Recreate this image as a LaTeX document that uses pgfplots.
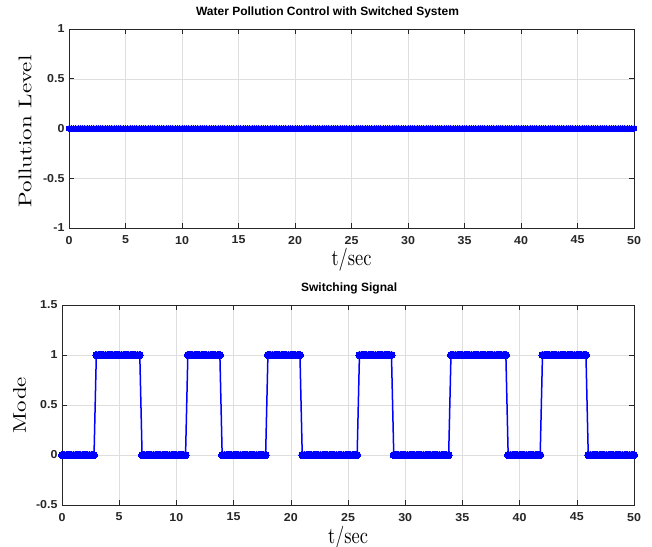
\documentclass[border=0pt]{standalone}
\usepackage{pgfplots}
\pgfplotsset{compat=1.18}
\usepackage{pgfplotstable}
\usepackage{fontspec}
\newfontfamily\hv{Liberation Sans}
\newfontfamily\hvt[FakeStretch=1.08]{Liberation Sans}
\newfontfamily\lmx[FakeStretch=0.8]{lmroman10-regular.otf}
\newfontfamily\lmy[FakeStretch=1.25]{lmroman10-regular.otf}
\definecolor{axgray}{gray}{0.15}
\pgfplotstableread[row sep=\\]{
t p m\\
0 0 0\\ 0.2 0 0\\ 0.4 0 0\\ 0.6 0 0\\ 0.8 0 0\\
1 0 0\\ 1.2 0 0\\ 1.4 0 0\\ 1.6 0 0\\ 1.8 0 0\\
2 0 0\\ 2.2 0 0\\ 2.4 0 0\\ 2.6 0 0\\ 2.8 0 0\\
3 0 1\\ 3.2 0 1\\ 3.4 0 1\\ 3.6 0 1\\ 3.8 0 1\\
4 0 1\\ 4.2 0 1\\ 4.4 0 1\\ 4.6 0 1\\ 4.8 0 1\\
5 0 1\\ 5.2 0 1\\ 5.4 0 1\\ 5.6 0 1\\ 5.8 0 1\\
6 0 1\\ 6.2 0 1\\ 6.4 0 1\\ 6.6 0 1\\ 6.8 0 1\\
7 0 0\\ 7.2 0 0\\ 7.4 0 0\\ 7.6 0 0\\ 7.8 0 0\\
8 0 0\\ 8.2 0 0\\ 8.4 0 0\\ 8.6 0 0\\ 8.8 0 0\\
9 0 0\\ 9.2 0 0\\ 9.4 0 0\\ 9.6 0 0\\ 9.8 0 0\\
10 0 0\\ 10.2 0 0\\ 10.4 0 0\\ 10.6 0 0\\ 10.8 0 0\\
11 0 1\\ 11.2 0 1\\ 11.4 0 1\\ 11.6 0 1\\ 11.8 0 1\\
12 0 1\\ 12.2 0 1\\ 12.4 0 1\\ 12.6 0 1\\ 12.8 0 1\\
13 0 1\\ 13.2 0 1\\ 13.4 0 1\\ 13.6 0 1\\ 13.8 0 1\\
14 0 0\\ 14.2 0 0\\ 14.4 0 0\\ 14.6 0 0\\ 14.8 0 0\\
15 0 0\\ 15.2 0 0\\ 15.4 0 0\\ 15.6 0 0\\ 15.8 0 0\\
16 0 0\\ 16.2 0 0\\ 16.4 0 0\\ 16.6 0 0\\ 16.8 0 0\\
17 0 0\\ 17.2 0 0\\ 17.4 0 0\\ 17.6 0 0\\ 17.8 0 0\\
18 0 1\\ 18.2 0 1\\ 18.4 0 1\\ 18.6 0 1\\ 18.8 0 1\\
19 0 1\\ 19.2 0 1\\ 19.4 0 1\\ 19.6 0 1\\ 19.8 0 1\\
20 0 1\\ 20.2 0 1\\ 20.4 0 1\\ 20.6 0 1\\ 20.8 0 1\\
21 0 0\\ 21.2 0 0\\ 21.4 0 0\\ 21.6 0 0\\ 21.8 0 0\\
22 0 0\\ 22.2 0 0\\ 22.4 0 0\\ 22.6 0 0\\ 22.8 0 0\\
23 0 0\\ 23.2 0 0\\ 23.4 0 0\\ 23.6 0 0\\ 23.8 0 0\\
24 0 0\\ 24.2 0 0\\ 24.4 0 0\\ 24.6 0 0\\ 24.8 0 0\\
25 0 0\\ 25.2 0 0\\ 25.4 0 0\\ 25.6 0 0\\ 25.8 0 0\\
26 0 1\\ 26.2 0 1\\ 26.4 0 1\\ 26.6 0 1\\ 26.8 0 1\\
27 0 1\\ 27.2 0 1\\ 27.4 0 1\\ 27.6 0 1\\ 27.8 0 1\\
28 0 1\\ 28.2 0 1\\ 28.4 0 1\\ 28.6 0 1\\ 28.8 0 1\\
29 0 0\\ 29.2 0 0\\ 29.4 0 0\\ 29.6 0 0\\ 29.8 0 0\\
30 0 0\\ 30.2 0 0\\ 30.4 0 0\\ 30.6 0 0\\ 30.8 0 0\\
31 0 0\\ 31.2 0 0\\ 31.4 0 0\\ 31.6 0 0\\ 31.8 0 0\\
32 0 0\\ 32.2 0 0\\ 32.4 0 0\\ 32.6 0 0\\ 32.8 0 0\\
33 0 0\\ 33.2 0 0\\ 33.4 0 0\\ 33.6 0 0\\ 33.8 0 0\\
34 0 1\\ 34.2 0 1\\ 34.4 0 1\\ 34.6 0 1\\ 34.8 0 1\\
35 0 1\\ 35.2 0 1\\ 35.4 0 1\\ 35.6 0 1\\ 35.8 0 1\\
36 0 1\\ 36.2 0 1\\ 36.4 0 1\\ 36.6 0 1\\ 36.8 0 1\\
37 0 1\\ 37.2 0 1\\ 37.4 0 1\\ 37.6 0 1\\ 37.8 0 1\\
38 0 1\\ 38.2 0 1\\ 38.4 0 1\\ 38.6 0 1\\ 38.8 0 1\\
39 0 0\\ 39.2 0 0\\ 39.4 0 0\\ 39.6 0 0\\ 39.8 0 0\\
40 0 0\\ 40.2 0 0\\ 40.4 0 0\\ 40.6 0 0\\ 40.8 0 0\\
41 0 0\\ 41.2 0 0\\ 41.4 0 0\\ 41.6 0 0\\ 41.8 0 0\\
42 0 1\\ 42.2 0 1\\ 42.4 0 1\\ 42.6 0 1\\ 42.8 0 1\\
43 0 1\\ 43.2 0 1\\ 43.4 0 1\\ 43.6 0 1\\ 43.8 0 1\\
44 0 1\\ 44.2 0 1\\ 44.4 0 1\\ 44.6 0 1\\ 44.8 0 1\\
45 0 1\\ 45.2 0 1\\ 45.4 0 1\\ 45.6 0 1\\ 45.8 0 1\\
46 0 0\\ 46.2 0 0\\ 46.4 0 0\\ 46.6 0 0\\ 46.8 0 0\\
47 0 0\\ 47.2 0 0\\ 47.4 0 0\\ 47.6 0 0\\ 47.8 0 0\\
48 0 0\\ 48.2 0 0\\ 48.4 0 0\\ 48.6 0 0\\ 48.8 0 0\\
49 0 0\\ 49.2 0 0\\ 49.4 0 0\\ 49.6 0 0\\ 49.8 0 0\\
50 0 0\\
}\data
\pgfplotsset{
  myax/.style={
    scale only axis,
    xmin=0, xmax=50,
    xtick={0,5,...,50},
    grid=major,
    grid style={black!13, line width=0.5pt},
    axis line style={axgray, line width=0.6pt},
    tick style={axgray, line width=0.6pt},
    tick align=inside,
    major tick length=5pt,
    ticklabel style={font=\hvt\bfseries\fontsize{11.5}{13}\selectfont, text=axgray},
    xticklabel style={yshift=-4.5pt},
    yticklabel style={xshift=-1pt},
    /pgf/number format/assume math mode=true,
    title style={font=\hv\bfseries\fontsize{12}{14}\selectfont, anchor=base, yshift=8pt},
    xlabel style={font=\lmx\fontsize{23}{26}\selectfont, at={(axis description cs:0.5,-0.19)}, anchor=base},
    ylabel style={font=\lmy\fontsize{18.4}{22}\selectfont, anchor=center},
    xlabel={t/sec},
  },
}
\begin{document}
\begin{tikzpicture}
\useasboundingbox (0,0) rectangle (652pt,-546pt);
\begin{axis}[myax,
  at={(69pt,-29pt)}, anchor=north west,
  width=565pt, height=199pt,
  ymin=-1, ymax=1, ytick={-1,-0.5,0,0.5,1},
  title={Water Pollution Control with Switched System},
  title style={at={(axis description cs:0.4575,1)}},
  ylabel={Pollution Level},
  ylabel style={at={(axis description cs:-0.0779,0.485)}},
]
\addplot[blue, line width=1.5pt, mark=*, mark size=2.9pt, mark options={fill=blue, draw=blue, line width=0pt}] table[x=t, y=p] {\data};
\end{axis}
\begin{axis}[myax,
  at={(62pt,-305pt)}, anchor=north west,
  width=572pt, height=200pt,
  ymin=-0.5, ymax=1.5, ytick={-0.5,0,0.5,1,1.5},
  title={Switching Signal},
  title style={at={(axis description cs:0.502,1)}},
  ylabel={Mode},
  ylabel style={at={(axis description cs:-0.0743,0.5)}},
]
\addplot[blue, line width=1.5pt, mark=*, mark size=3.6pt, mark options={fill=blue, draw=blue, line width=0pt}] table[x=t, y=m] {\data};
\end{axis}
\end{tikzpicture}
\end{document}
